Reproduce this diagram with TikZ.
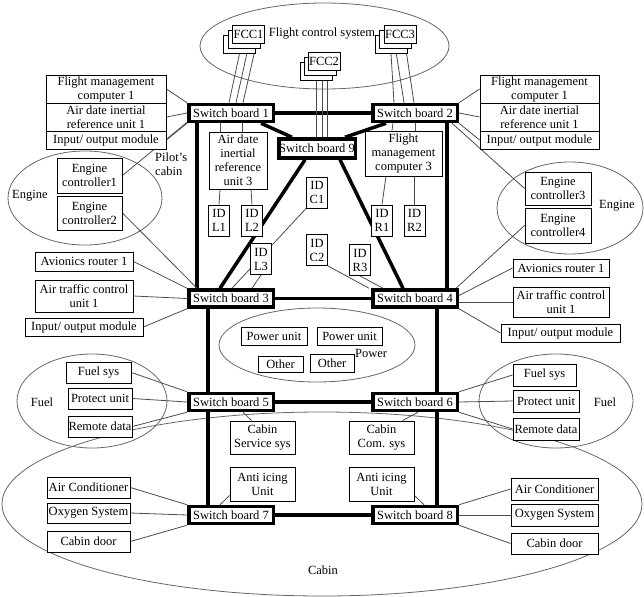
\documentclass[tikz,border=0pt]{standalone}
\usepackage{fontspec}
\setmainfont{Liberation Serif}
\usetikzlibrary{calc}
\pgfdeclarelayer{bg}
\pgfsetlayers{bg,main}
\tikzset{
  txt/.style={font=\fontsize{12.5}{14}\selectfont, inner sep=0pt, align=center},
  bx/.style={txt, draw=black, line width=0.9pt, fill=white},
  wh/.style 2 args={minimum width=#1pt, minimum height=#2pt},
  sw/.style={txt, draw=black, line width=3.5pt, fill=white, minimum width=84.5pt, minimum height=17pt},
  fcc/.style={bx, minimum width=32pt, minimum height=18pt},
  idb/.style={bx, minimum width=21pt, minimum height=31pt},
  thinl/.style={draw=black!70, line width=0.8pt},
  thickl/.style={draw=black, line width=3.5pt},
  ell/.style={draw=black!60, line width=0.8pt},
}
\begin{document}
\begin{tikzpicture}[x=1pt,y=-1pt]
\useasboundingbox (0,0) rectangle (644,596);

% ---------- switch boards ----------
\node[sw] (sb1) at (231,113) {Switch board 1};
\node[sw] (sb2) at (415,113) {Switch board 2};
\node[sw, minimum width=76.5pt, minimum height=19pt] (sb9) at (317,148.5) {Switch board 9};
\node[sw] (sb3) at (231,298.5) {Switch board 3};
\node[sw] (sb4) at (415,298.5) {Switch board 4};
\node[sw] (sb5) at (231,402) {Switch board 5};
\node[sw] (sb6) at (415,402) {Switch board 6};
\node[sw] (sb7) at (231,515) {Switch board 7};
\node[sw] (sb8) at (415,515) {Switch board 8};

% ---------- FCC groups ----------
\node[fcc] (fcc1c) at (239.5,44) {};
\node[fcc] (fcc1b) at (244,39) {};
\node[fcc] (fcc1a) at (248.5,34) {FCC1};
\node[fcc] (fcc3c) at (391,44) {};
\node[fcc] (fcc3b) at (395.5,39) {};
\node[fcc] (fcc3a) at (400,34) {FCC3};
\node[fcc] (fcc2c) at (316,71) {};
\node[fcc] (fcc2b) at (320,66) {};
\node[fcc] (fcc2a) at (324,61) {FCC2};
\node[txt] (fcs) at (322,34) {Flight control system};

% ---------- top left ----------
\node[bx, wh={120}{28}] (fmcL) at (106,89) {Flight management\\computer 1};
\node[bx, wh={120}{28}] (adiruL) at (106,117) {Air date inertial\\reference unit 1};
\node[bx, wh={120}{18}] (ioL) at (106,140) {Input/ output module};
\node[txt, anchor=west, align=left] (pilot) at (155,164.5) {Pilot’s\\cabin};

% ---------- top right ----------
\node[bx, wh={119}{28}] (fmcR) at (539.5,89) {Flight management\\computer 1};
\node[bx, wh={119}{28}] (adiruR) at (539.5,117) {Air date inertial\\reference unit 1};
\node[bx, wh={119}{18}] (ioR) at (539.5,140) {Input/ output module};

% ---------- engines ----------
\node[bx, wh={65}{35}] (ec1) at (89.5,175.5) {Engine\\controller1};
\node[bx, wh={65}{34}] (ec2) at (89.5,213) {Engine\\controller2};
\node[txt, anchor=west] (engL) at (12,196) {Engine};
\node[bx, wh={66}{33}] (ec3) at (558,188.5) {Engine\\controller3};
\node[bx, wh={66}{35}] (ec4) at (558,225.5) {Engine\\controller4};
\node[txt, anchor=west] (engR) at (599,206) {Engine};

% ---------- middle left / right ----------
\node[bx, wh={98}{19}] (arL) at (84,261.5) {Avionics router 1};
\node[bx, wh={98}{32}] (atcL) at (84,296) {Air traffic control\\unit 1};
\node[bx, wh={118}{18}] (io2L) at (84,327) {Input/ output module};
\node[bx, wh={96}{18}] (arR) at (561,268) {Avionics router 1};
\node[bx, wh={96}{30}] (atcR) at (561,302) {Air traffic control\\unit 1};
\node[bx, wh={119}{18}] (io2R) at (560.5,333) {Input/ output module};

% ---------- centre ----------
\node[bx, wh={58}{57}] (adiru3) at (238,160.5) {Air date\\inertial\\reference\\unit 3};
\node[bx, wh={77}{45}] (fmc3) at (403.5,153.5) {Flight\\management\\computer 3};
\node[idb] (idl1) at (219,220.5) {ID\\L1};
\node[idb] (idl2) at (252,220.5) {ID\\L2};
\node[idb] (idl3) at (261,259) {ID\\L3};
\node[idb] (idc1) at (317,192.5) {ID\\C1};
\node[idb] (idc2) at (317,250) {ID\\C2};
\node[idb] (idr3) at (360,260) {ID\\R3};
\node[idb] (idr1) at (382,220.5) {ID\\R1};
\node[idb] (idr2) at (414.5,220.5) {ID\\R2};

% ---------- power ----------
\node[bx, wh={66}{18}] (pu1) at (274,336) {Power unit};
\node[bx, wh={65}{18}] (pu2) at (349.5,336) {Power unit};
\node[bx, wh={45}{16}] (ot1) at (280.5,364) {Other};
\node[bx, wh={44}{18}] (ot2) at (332,363) {Other};
\node[txt, anchor=west] (power) at (355,353) {Power};

% ---------- fuel ----------
\node[bx, wh={65}{21}] (fuelL) at (98.5,372.5) {Fuel sys};
\node[bx, wh={64}{21}] (protL) at (100,398.5) {Protect unit};
\node[bx, wh={64}{21}] (remL) at (100,426.5) {Remote data};
\node[txt] (fuelTL) at (42,402) {Fuel};
\node[bx, wh={63}{22}] (fuelR) at (544.5,375) {Fuel sys};
\node[bx, wh={66}{22}] (protR) at (546,401) {Protect unit};
\node[bx, wh={66}{22}] (remR) at (546,429) {Remote data};
\node[txt] (fuelTR) at (605,402) {Fuel};

% ---------- cabin ----------
\node[bx, wh={65}{33}] (cabserv) at (262.5,437.5) {Cabin\\Service sys};
\node[bx, wh={65}{34}] (antiL) at (262.5,484) {Anti icing\\Unit};
\node[bx, wh={65}{33}] (cabcom) at (381.5,437.5) {Cabin\\Com. sys};
\node[bx, wh={65}{34}] (antiR) at (381.5,484) {Anti icing\\Unit};
\node[bx, wh={83}{21}] (acL) at (88.5,487.5) {Air Conditioner};
\node[bx, wh={83}{20}] (oxL) at (88.5,513) {Oxygen System};
\node[bx, wh={83}{21}] (cdL) at (88.5,541.5) {Cabin door};
\node[bx, wh={87}{22}] (acR) at (554.5,489) {Air Conditioner};
\node[bx, wh={87}{22}] (oxR) at (554.5,515) {Oxygen System};
\node[bx, wh={87}{21}] (cdR) at (554.5,543.5) {Cabin door};
\node[txt] (cabinT) at (323,570) {Cabin};

\begin{pgfonlayer}{bg}
% ellipses
\draw[ell] (324.5,46) ellipse [x radius=124.5pt, y radius=43pt];
\draw[ell] (85,198) ellipse [x radius=77pt, y radius=47pt];
\draw[ell] (570,208) ellipse [x radius=73pt, y radius=46pt];
\draw[ell] (317,345) ellipse [x radius=98pt, y radius=37pt];
\draw[ell] (92,401) ellipse [x radius=75pt, y radius=47pt];
\draw[ell] (556,401) ellipse [x radius=77pt, y radius=47pt];
\draw[ell] (322,504) ellipse [x radius=320pt, y radius=92pt];

% thick backbone
\draw[thickl] (sb1.east) -- (sb2.west);
\draw[thickl] (sb3.east) -- (sb4.west);
\draw[thickl] (sb5.east) -- (sb6.west);
\draw[thickl] (sb7.east) -- (sb8.west);
\draw[thickl] ([xshift=10]sb1.south west) -- ([xshift=10]sb3.north west);
\draw[thickl] ([xshift=21]sb3.south west) -- ([xshift=21]sb5.north west);
\draw[thickl] ([xshift=21]sb5.south west) -- ([xshift=21]sb7.north west);
\draw[thickl] ([xshift=-12]sb2.south east) -- ([xshift=-12]sb4.north east);
\draw[thickl] ([xshift=-22]sb4.south east) -- ([xshift=-22]sb6.north east);
\draw[thickl] ([xshift=-22]sb6.south east) -- ([xshift=-22]sb8.north east);
\draw[thickl] ([xshift=-14]sb1.south east) -- ([xshift=15]sb9.north west);
\draw[thickl] ([xshift=15]sb2.south west) -- ([xshift=-12]sb9.north east);
\draw[thickl] ([xshift=28]sb9.south west) -- ([xshift=33]sb3.north west);
\draw[thickl] ([xshift=-17]sb9.south east) -- ([xshift=32]sb4.north west);

% FCC links
\draw[thinl] (fcc1c.south) -- ([xshift=-2]sb1.north);
\draw[thinl] ([xshift=4]fcc1b.south) -- ([xshift=5]sb1.north);
\draw[thinl] ([xshift=8]fcc1a.south) -- ([xshift=12]sb1.north);
\draw[thinl] (fcc3c.south) -- ([xshift=-21]sb2.north);
\draw[thinl] (fcc3b.south) -- ([xshift=-11]sb2.north);
\draw[thinl] ([xshift=5]fcc3a.south) -- ([xshift=-1]sb2.north);
\draw[thinl] (fcc2c.south) -- (fcc2c.south |- sb9.north);
\draw[thinl] ([xshift=2]fcc2b.south) -- ([xshift=2]fcc2b.south |- sb9.north);
\draw[thinl] ([xshift=3]fcc2a.south) -- ([xshift=3]fcc2a.south |- sb9.north);

% top left / right
\draw[thinl] (fmcL.east) -- (sb1.north west);
\draw[thinl] (adiruL.east) -- (sb1.west);
\draw[thinl] (ioL.east) -- (sb1.south west);
\draw[thinl] (ec1.east) -- ([yshift=1]sb1.south west);
\draw[thinl] (sb2.north east) -- (fmcR.west);
\draw[thinl] (sb2.east) -- (adiruR.west);
\draw[thinl] (sb2.south east) -- (ioR.west);
\draw[thinl] ([xshift=-7]sb2.south east) -- (ec3.west);

% centre
\draw[thinl] ([xshift=-11]sb1.south) -- ([xshift=-18]adiru3.north);
\draw[thinl] ([xshift=11]sb1.south) -- ([xshift=4]adiru3.north);
\draw[thinl] ([xshift=-18]adiru3.south) -- (idl1.north);
\draw[thinl] ([xshift=13]adiru3.south) -- (idl2.north);
\draw[thinl] (idl3.south) -- ([xshift=21]sb3.north);
\draw[thinl] (idc1.south west) -- ([xshift=1]sb3.north);
\draw[thinl] ([xshift=-22]sb2.south) -- ([xshift=-11.5]fmc3.north);
\draw[thinl] ([xshift=0]sb2.south) -- ([xshift=11.5]fmc3.north);
\draw[thinl] ([xshift=-17.5]fmc3.south) -- (idr1.north);
\draw[thinl] ([xshift=11]fmc3.south) -- (idr2.north);
\draw[thinl] (idc2.south east) -- ([xshift=-2]sb4.north west);
\draw[thinl] (idr3.south) -- ([xshift=12]sb4.north west);

% middle left / right
\draw[thinl] (ec2.east) -- ([xshift=10]sb3.north west);
\draw[thinl] (arL.east) -- (sb3.north west);
\draw[thinl] (atcL.east) -- (sb3.west);
\draw[thinl] (io2L.east) -- (sb3.south west);
\draw[thinl] (ec4.west) -- ([xshift=-3]sb4.north east);
\draw[thinl] ([yshift=3]sb4.east) -- (arR.west);
\draw[thinl] (sb4.east |- atcR.west) -- (atcR.west);
\draw[thinl] (sb4.south east) -- (io2R.west);

% fuel
\draw[thinl] (fuelL.east) -- (sb5.north west);
\draw[thinl] (protL.east) -- (sb5.west);
\draw[thinl] (remL.east) -- (sb5.south west);
\draw[thinl] (sb6.north east) -- (fuelR.west);
\draw[thinl] (sb6.east) -- (protR.west);
\draw[thinl] (sb6.south east) -- (remR.west);

% cabin
\draw[thinl] ([xshift=56]sb5.south west) -- ([xshift=22]cabserv.north west);
\draw[thinl] ([yshift=6]antiL.south west) -- ([xshift=33]sb7.north west);
\draw[thinl] ([xshift=47]sb6.south west) -- ([xshift=54]cabcom.north west);
\draw[thinl] ([yshift=6]antiR.south east) -- ([xshift=53]sb8.north west);
\draw[thinl] (acL.east) -- (sb7.north west);
\draw[thinl] (oxL.east) -- (sb7.west);
\draw[thinl] (cdL.east) -- (sb7.south west);
\draw[thinl] (sb8.north east) -- (acR.west);
\draw[thinl] (sb8.east) -- (oxR.west);
\draw[thinl] (sb8.south east) -- (cdR.west);
\end{pgfonlayer}
\end{tikzpicture}
\end{document}
